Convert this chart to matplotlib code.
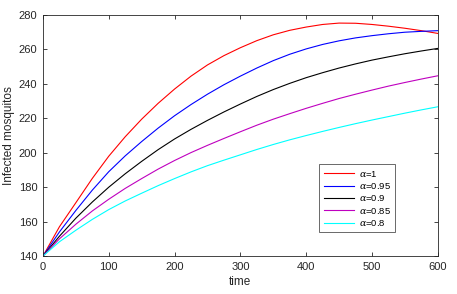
import numpy as np
import matplotlib
matplotlib.use("Agg")
import matplotlib.pyplot as plt

# --------------------------------------------------
# DATA (every 25 time units)
# --------------------------------------------------

time_pts = list(range(0, 601, 25))

alpha_1   = [140, 157, 171, 185.1, 198, 209.3, 219.5, 228.7, 237, 244.5, 251, 256.4, 261,
             265.1, 268.5, 271.1, 273, 274.5, 275.3, 275.2, 274.5, 273.5, 272.3, 270.9, 269.3]
alpha_095 = [140, 154, 166.5, 178.3, 189, 198.2, 206.5, 214.3, 221.5, 228, 234, 239.5, 244.5,
             249.2, 253.5, 257.2, 260.3, 262.9, 265, 266.7, 268, 269.1, 270, 270.5, 270.9]
alpha_09  = [140, 151.5, 162, 171.4, 180, 187.8, 195, 201.8, 208, 213.6, 218.8, 223.7, 228.3,
             232.7, 236.7, 240.3, 243.6, 246.5, 249.2, 251.6, 253.8, 255.7, 257.5, 259.1, 260.6]
alpha_085 = [140, 150, 158.5, 166.2, 173, 179.3, 185, 190.5, 195.5, 200.1, 204.3, 208.3, 212.2,
             216, 219.5, 222.7, 225.8, 228.7, 231.5, 234, 236.4, 238.7, 240.8, 242.8, 244.7]
alpha_08  = [140, 148.3, 155, 161.3, 167, 172, 176.5, 180.9, 185, 188.9, 192.5, 195.7, 198.8,
             201.9, 204.8, 207.5, 210, 212.4, 214.7, 216.9, 219, 221, 223, 224.9, 226.7]

labels = ["1", "0.95", "0.9", "0.85", "0.8"]
colors = ["#ff0000", "#0000ff", "#000000", "#bf00bf", "#00ffff"]

# --------------------------------------------------
# PLOT
# --------------------------------------------------

plt.rcParams["font.family"] = ["Liberation Sans", "DejaVu Sans"]
plt.rcParams["mathtext.fontset"] = "dejavuserif"

fig = plt.figure(figsize=(4.57, 2.94), dpi=100)
ax = fig.add_axes([0.094, 0.129, 0.864, 0.820])

for series, lab, col in zip([alpha_1, alpha_095, alpha_09, alpha_085, alpha_08], labels, colors):
    ax.plot(time_pts, series, color=col, linewidth=0.8, label=r"$\alpha$=" + lab)

ax.set_xlim(0, 600)
ax.set_ylim(140, 280)
ax.set_xticks(np.arange(0, 601, 100))
ax.set_yticks(np.arange(140, 281, 20))
ax.tick_params(direction="in", top=True, right=True, labelsize=8,
               length=3, width=0.6, colors="#262626")
ax.tick_params(axis="x", pad=4)
ax.tick_params(axis="y", pad=4)
for s in ax.spines.values():
    s.set_linewidth(0.6)
    s.set_color("#262626")

ax.set_xlabel("time", fontsize=8.5, color="#262626", labelpad=3)
ax.set_ylabel("Infected mosquitos", fontsize=8.5, color="#262626", labelpad=3)

leg = ax.legend(loc="upper left", bbox_to_anchor=(0.70, 0.38), fontsize=6.8,
                frameon=True, fancybox=False, handlelength=3.2, handletextpad=0.5,
                borderpad=0.45, labelspacing=0.25, borderaxespad=0)
leg.get_frame().set_edgecolor("#262626")
leg.get_frame().set_linewidth(0.6)

plt.savefig("out.png", dpi=100)
plt.close()
